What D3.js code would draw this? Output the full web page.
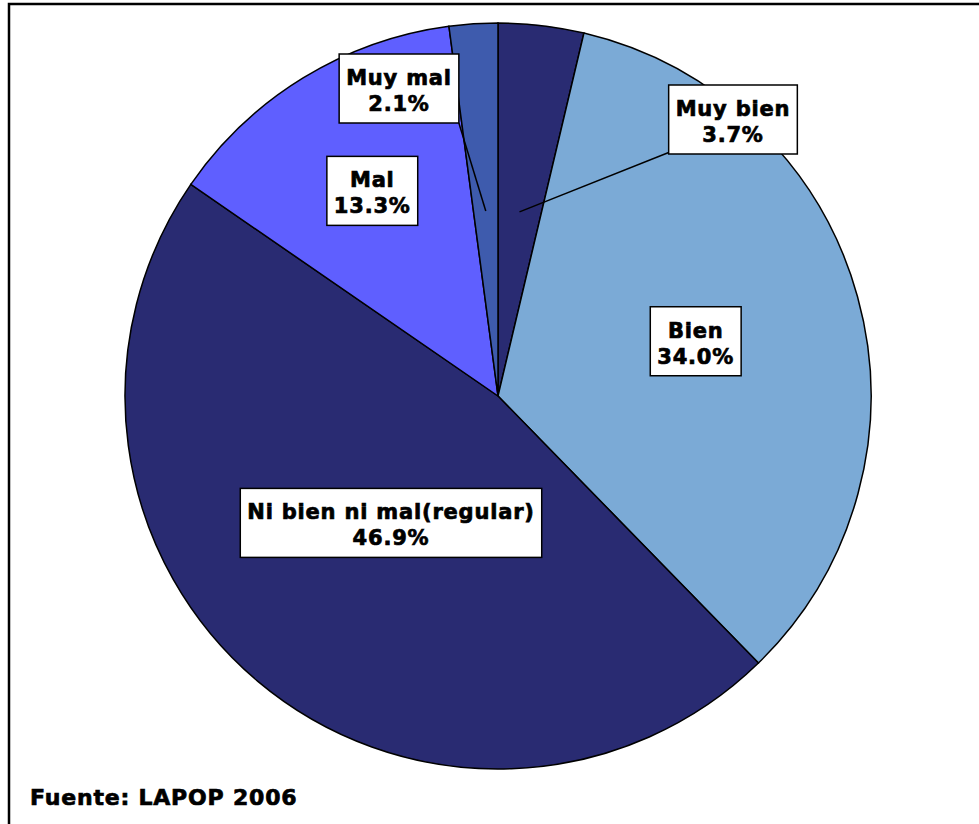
<!DOCTYPE html>
<html><head><meta charset="utf-8">
<script src="https://cdn.jsdelivr.net/npm/d3@7/dist/d3.min.js"></script>
<style>body{margin:0;background:#fff}svg{display:block}</style>
</head><body>
<script>
const categories = ["Muy bien", "Bien", "Ni bien ni mal(regular)", "Mal", "Muy mal"];
const values = [3.7, 34.0, 46.9, 13.3, 2.1];
const colors = ["#292B72", "#7BAAD6", "#292B72", "#5F5FFF", "#3E5BAD"];
const source = "Fuente: LAPOP 2006";

const W = 979, H = 824;
const cx = 498, cy = 396, R = 373;
// label layout: radius fraction for in-slice labels; moved labels have explicit box centres
const labelR = [null, 0.55, 0.445, 0.645, null];
const movedLabel = {0: [733, 119.5], 4: [399, 88.5]};
const leaderR = 0.497;

const svg = d3.select("body").append("svg").attr("width", W).attr("height", H);
svg.append("rect").attr("width", W).attr("height", H).attr("fill", "#fff");
svg.append("path").attr("d", `M9,${H+5} L9,4 L${W+5},4`).attr("fill","none").attr("stroke","#000").attr("stroke-width",2.5);

const pie = d3.pie().sort(null).value(d => d)(values);
const arc = d3.arc().innerRadius(0).outerRadius(R);
const g = svg.append("g").attr("transform", `translate(${cx},${cy})`);
g.selectAll("path.slice").data(pie).join("path").attr("class","slice")
  .attr("d", arc).attr("fill", (d,i) => colors[i]).attr("stroke", "#000").attr("stroke-width", 1.5);

const font = "'DejaVu Sans', 'Liberation Sans', sans-serif";
function heavy(sel, size) {
  return sel.attr("font-family", font).attr("font-weight","bold").attr("font-size", size)
    .attr("letter-spacing", 0.8).attr("fill","#000").attr("stroke","#000").attr("stroke-width",0.7);
}
pie.forEach((d, i) => {
  const mid = (d.startAngle + d.endAngle) / 2;
  let x, y;
  if (movedLabel[i]) {
    [x, y] = movedLabel[i];
  } else {
    x = cx + labelR[i] * R * Math.sin(mid);
    y = cy - labelR[i] * R * Math.cos(mid);
  }
  const lg = svg.append("g");
  const t = heavy(lg.append("text").attr("text-anchor","middle"), 21);
  t.append("tspan").attr("x", x).attr("y", y - 3.5).text(categories[i]);
  t.append("tspan").attr("x", x).attr("y", y + 22.5).text(values[i].toFixed(1) + "%");
  const bb = t.node().getBBox();
  const bx = x - bb.width/2 - 7, bw = bb.width + 14;
  lg.insert("rect", "text").attr("x", bx).attr("y", y - 34.5).attr("width", bw).attr("height", 69)
    .attr("fill","#fff").attr("stroke","#000").attr("stroke-width",1.5);
  if (movedLabel[i]) {
    const ex = cx + leaderR * R * Math.sin(mid), ey = cy - leaderR * R * Math.cos(mid);
    const sx = x < cx ? bx + bw : bx;
    const sy = x < cx ? y + 34.5 : y + 33;
    svg.append("line").attr("x1", sx).attr("y1", sy).attr("x2", ex).attr("y2", ey)
      .attr("stroke","#000").attr("stroke-width",1.5);
  }
});

heavy(svg.append("text").attr("x", 30).attr("y", 805), 22).text(source);
</script>
</body></html>
